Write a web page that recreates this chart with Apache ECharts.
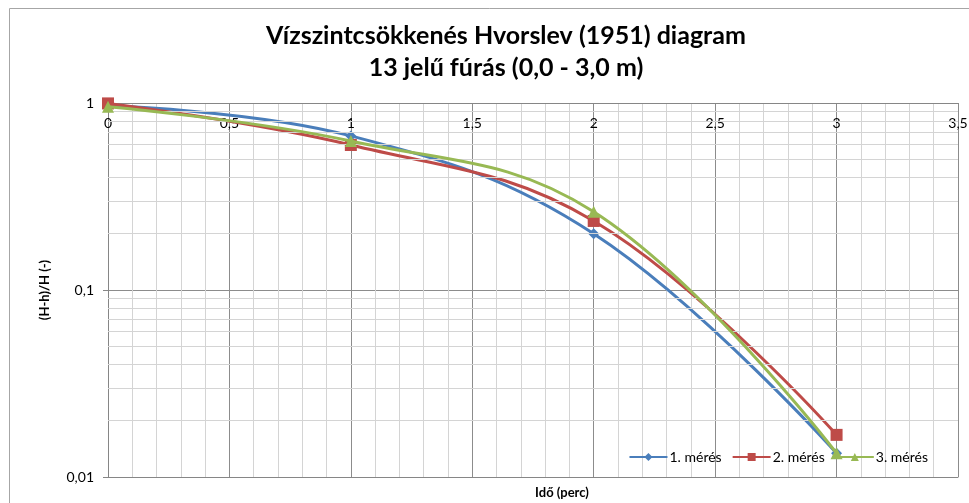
<!DOCTYPE html>
<html>
<head>
<meta charset="utf-8">
<script src="https://cdn.jsdelivr.net/npm/echarts@6/dist/echarts.min.js"></script>
<style>
  html, body { margin: 0; padding: 0; background: #fff; }
  #chart { width: 969px; height: 503px; }
</style>
</head>
<body>
<div id="chart"></div>
<script>
// mérési idők (perc) és a (H-h)/H értékek
var times = [0, 1, 2, 3];
var meres1 = [0.97, 0.667, 0.2, 0.0134];
var meres2 = [0.995, 0.596, 0.234, 0.0168];
var meres3 = [0.955, 0.626, 0.262, 0.0134];
var seriesNames = ['1. mérés', '2. mérés', '3. mérés'];
var logMinor = [0.02, 0.03, 0.04, 0.05, 0.06, 0.07, 0.08, 0.09,
                0.2, 0.3, 0.4, 0.5, 0.6, 0.7, 0.8, 0.9];

var font = 'Lato';

function pairs(ys) {
    return times.map(function (t, i) { return [t, ys[i]]; });
}
function comma(v) {
    return String(v).replace('.', ',');
}

var chart = echarts.init(document.getElementById('chart'));

var option = {
    backgroundColor: '#fff',
    animation: false,
    title: {
        text: 'Vízszintcsökkenés Hvorslev (1951) diagram\n13 jelű fúrás (0,0 - 3,0 m)',
        left: 501,
        textAlign: 'center',
        top: 15,
        textStyle: {
            fontFamily: font,
            fontSize: 25,
            fontWeight: 'bold',
            color: '#000',
            lineHeight: 32
        }
    },
    graphic: [{
        type: 'rect',
        shape: { x: 9.5, y: 8.5, width: 1000, height: 600 },
        style: { fill: 'none', stroke: '#a6a6a6', lineWidth: 1 },
        silent: true
    }],
    legend: {
        data: seriesNames,
        right: 36,
        top: 445,
        itemWidth: 38,
        itemHeight: 10,
        itemGap: 10,
        textStyle: { fontFamily: font, fontSize: 14, color: '#000', padding: [0, 0, 0, -3] }
    },
    grid: { left: 108, right: 11, top: 103, bottom: 26, outerBoundsMode: 'none' },
    xAxis: [{
        type: 'value',
        position: 'top',
        min: 0,
        max: 3.5,
        interval: 0.5,
        axisLine: { show: true, lineStyle: { color: '#868686' } },
        axisTick: { show: false },
        axisLabel: {
            inside: true,
            margin: 13,
            fontFamily: font,
            fontSize: 14,
            color: '#000',
            formatter: comma
        },
        splitLine: { show: true, lineStyle: { color: '#8c8c8c', width: 1 } },
        minorTick: { show: false, splitNumber: 5 },
        minorSplitLine: { show: true, lineStyle: { color: '#d4d4d4', width: 1 } }
    }, {
        type: 'value',
        position: 'bottom',
        min: 0,
        max: 3.5,
        name: 'Idő (perc)',
        nameLocation: 'middle',
        nameGap: 9,
        nameTextStyle: {
            fontFamily: font, fontSize: 13, fontWeight: 'bold', color: '#000',
            padding: [0, 0, 0, 58]
        },
        axisLine: { show: true, lineStyle: { color: '#868686' } },
        axisTick: { show: false },
        axisLabel: { show: false },
        splitLine: { show: false }
    }],
    yAxis: {
        type: 'log',
        logBase: 10,
        min: 0.01,
        max: 1,
        name: '(H-h)/H (-)',
        nameLocation: 'middle',
        nameGap: 57,
        nameTextStyle: { fontFamily: font, fontSize: 13, fontWeight: 'bold', color: '#000' },
        axisLine: { show: true, lineStyle: { color: '#868686' } },
        axisTick: { show: true, length: 5, lineStyle: { color: '#868686' } },
        axisLabel: {
            fontFamily: font,
            fontSize: 14,
            color: '#000',
            margin: 14,
            formatter: comma
        },
        splitLine: { show: true, lineStyle: { color: '#8c8c8c', width: 1 } }
    },
    series: [{
        name: 'grid',
        type: 'line',
        data: [],
        silent: true,
        z: 1,
        markLine: {
            silent: true,
            symbol: 'none',
            label: { show: false },
            lineStyle: { color: '#d4d4d4', type: 'solid', width: 1 },
            data: logMinor.map(function (v) { return { yAxis: v }; })
        }
    }, {
        name: seriesNames[0],
        type: 'line',
        smooth: 0.4,
        data: pairs(meres1),
        symbol: 'diamond',
        symbolSize: 11,
        color: '#4a7ebb',
        lineStyle: { width: 3 },
        z: 3
    }, {
        name: seriesNames[1],
        type: 'line',
        smooth: 0.4,
        data: pairs(meres2),
        symbol: 'rect',
        symbolSize: 12,
        color: '#be4b48',
        lineStyle: { width: 3 },
        z: 4
    }, {
        name: seriesNames[2],
        type: 'line',
        smooth: 0.4,
        data: pairs(meres3),
        symbol: 'triangle',
        symbolSize: 12,
        color: '#98b954',
        lineStyle: { width: 3 },
        z: 5
    }]
};

chart.setOption(option);
</script>
</body>
</html>
